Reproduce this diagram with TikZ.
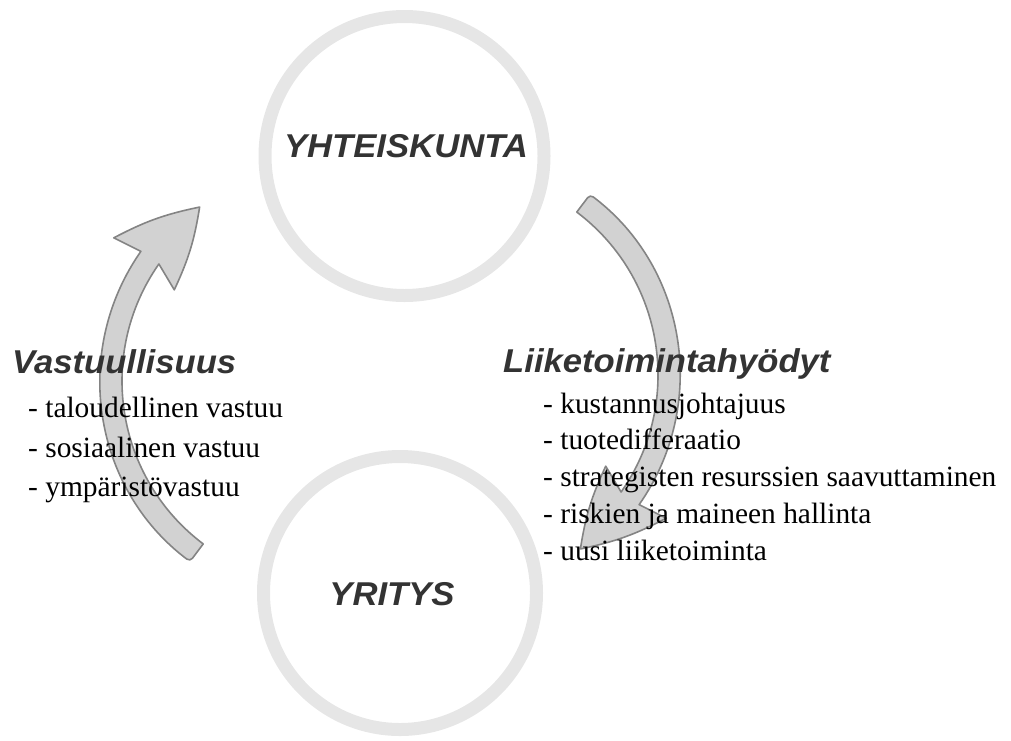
\documentclass[tikz,border=0pt]{standalone}
\usepackage{fontspec}
\setmainfont{Liberation Serif}
\newfontfamily\headfont{Liberation Sans}
\definecolor{ringgray}{HTML}{E6E6E6}
\definecolor{arrowfill}{HTML}{D2D2D2}
\definecolor{arrowedge}{HTML}{848484}
\definecolor{headgray}{HTML}{333333}
\tikzset{
  ring/.style={circle, draw=ringgray, line width=13pt, inner sep=0pt, outer sep=0pt},
  bigarrow/.style={draw=arrowedge, fill=arrowfill, line width=1.6pt, line join=round},
  headtext/.style={text=headgray, inner sep=0pt, font=\headfont\bfseries\itshape\fontsize{33}{33}\selectfont},
  listtext/.style={inner sep=0pt, anchor=base west, font=\fontsize{29.4}{36}\selectfont},
  curvedarrow/.pic={
    \draw[bigarrow]
      (233:215) [rounded corners=4pt] -- (233:226) [sharp corners]
      arc[start angle=233, end angle=145, radius=226]
      -- (146:256)
      to[bend left=8] (126:215)
      to[bend left=8] (149:177)
      -- (145:204)
      arc[start angle=145, end angle=233, radius=204] [rounded corners=4pt]
      -- cycle;
  },
}
\newcommand{\hstretch}[1]{\scalebox{1.05}[1]{#1}}
\begin{document}
\begin{tikzpicture}[x=1pt,y=1pt]
\useasboundingbox (0,0) rectangle (1011,-740);
% circles
\node[ring, minimum size=279pt] (soc) at (404.5,-156) {};
\node[ring, minimum size=273pt] (firm) at (400,-593) {};
% left curved arrow (firm -> society)
\pic (leftarrow) at (326,-381) {curvedarrow};
% right curved arrow (society -> firm): same shape turned half round
\pic[rotate=180] (rightarrow) at (454,-375) {curvedarrow};
% circle labels
\node[headtext, anchor=base] (socl) at (406,-157) {\hstretch{YHTEISKUNTA}};
\node[headtext, anchor=base] (firml) at (392,-605) {\hstretch{YRITYS}};
% headings
\node[headtext, anchor=base west] (vast) at (12,-373) {\hstretch{Vastuullisuus}};
\node[headtext, anchor=base west] (liik) at (503,-372) {\hstretch{Liiketoimintahyödyt}};
% lists
\node[listtext] (v1) at (28,-417) {- taloudellinen vastuu};
\node[listtext] (v2) at (28,-457) {- sosiaalinen vastuu};
\node[listtext] (v3) at (28,-496) {- ympäristövastuu};
\node[listtext] (l1) at (543,-413) {- kustannusjohtajuus};
\node[listtext] (l2) at (543,-449.8) {- tuotedifferaatio};
\node[listtext] (l3) at (543,-486.6) {- strategisten resurssien saavuttaminen};
\node[listtext] (l4) at (543,-523.4) {- riskien ja maineen hallinta};
\node[listtext] (l5) at (543,-560.2) {- uusi liiketoiminta};
\end{tikzpicture}
\end{document}
